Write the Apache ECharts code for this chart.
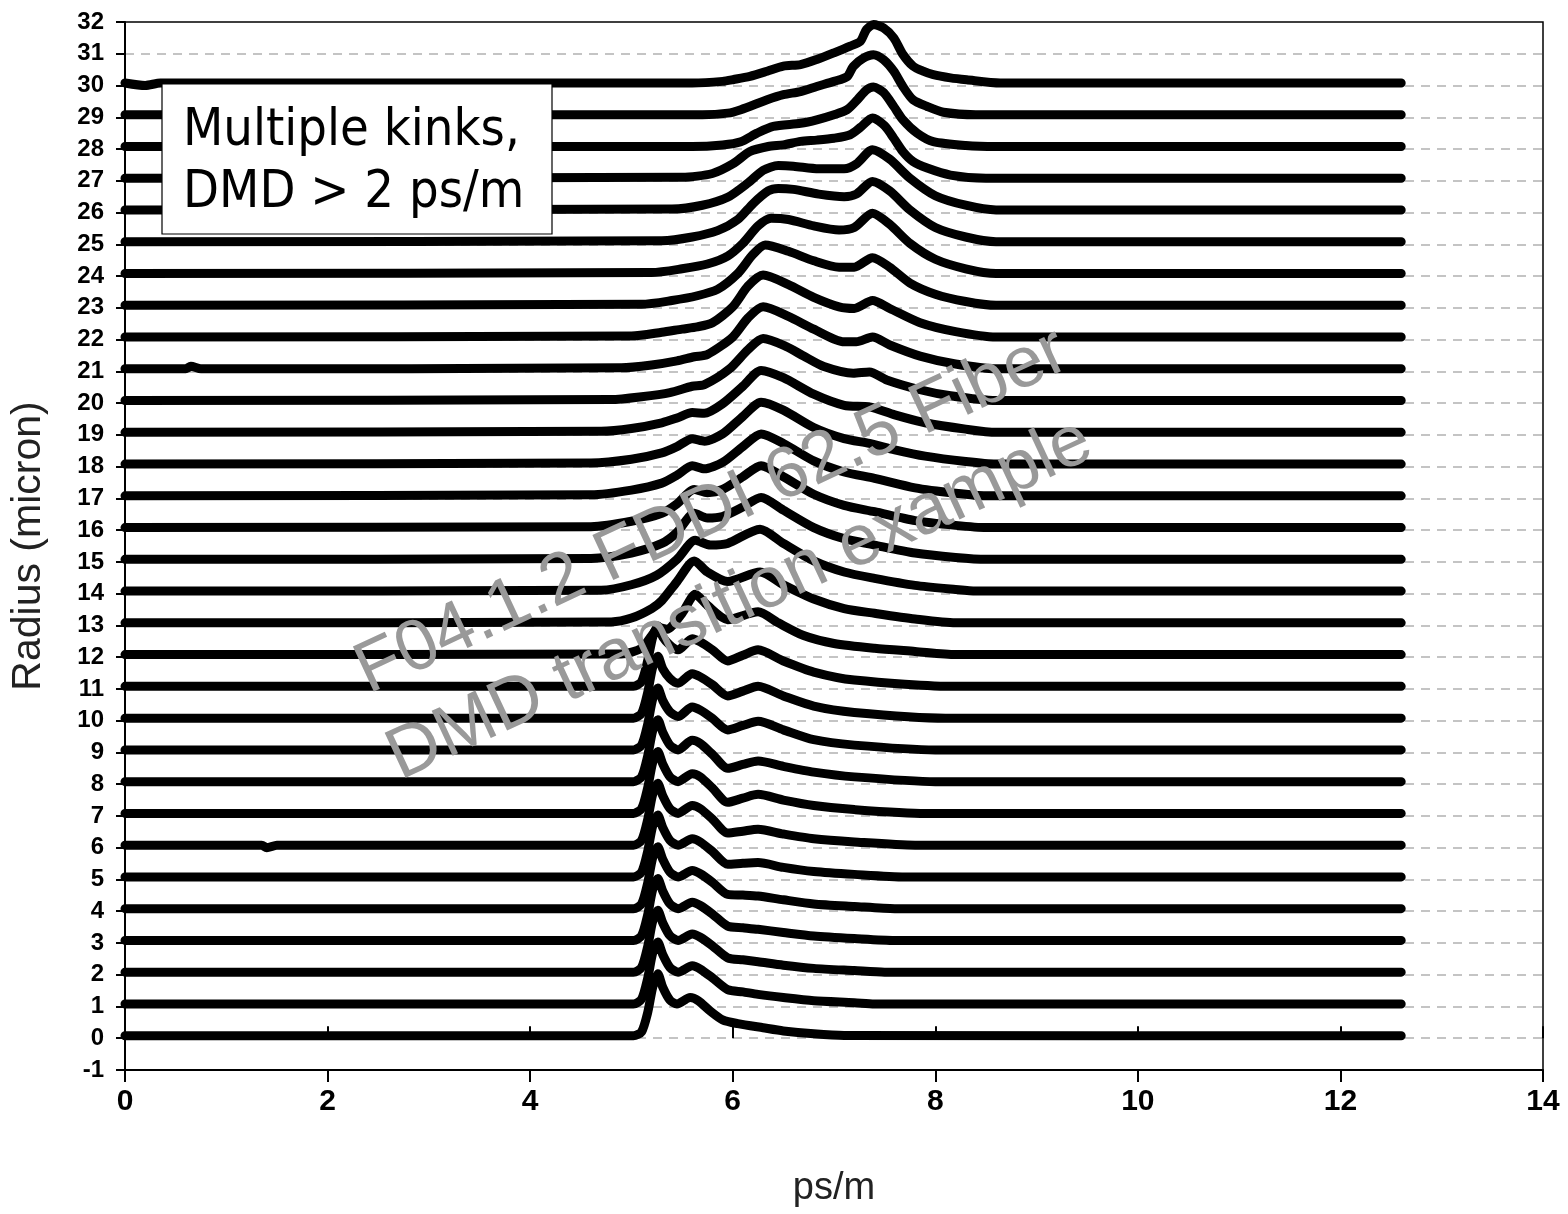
<!DOCTYPE html>
<html>
<head>
<meta charset="utf-8">
<script src="https://cdn.jsdelivr.net/npm/echarts@6/dist/echarts.min.js"></script>
<style>
html,body{margin:0;padding:0;background:#fff;}
#chart{width:1568px;height:1214px;}
</style>
</head>
<body>
<div id="chart"></div>
<script>
// ---- axis settings ----
const xTicks = [0, 2, 4, 6, 8, 10, 12, 14];
const yTickMin = -1, yTickMax = 32;
const xAxisTitle = 'ps/m';
const yAxisTitle = 'Radius (micron)';
const boxLines = ['Multiple kinks,', 'DMD > 2 ps/m'];
const watermarkLines = ['F04.1.2 FDDI 62.5 Fiber', 'DMD transition example'];

// ---- traces: one per launch radius (micron), points [ps/m, plotted value] ----
const t0 = [[0,0.08],[5.02,0.08],[5.1,0.2],[5.16,0.8],[5.21,1.6],[5.26,2.03],[5.31,1.6],[5.38,1.2],[5.45,1.08],[5.58,1.28],[5.66,1.18],[5.78,0.85],[5.9,0.58],[6.05,0.46],[6.3,0.33],[6.5,0.23],[6.8,0.14],[7.1,0.09],[12.6,0.08]];
const t1 = [[0,1.08],[5.02,1.08],[5.1,1.23],[5.16,1.88],[5.21,2.68],[5.26,3.03],[5.31,2.63],[5.38,2.23],[5.46,2.08],[5.6,2.28],[5.68,2.18],[5.8,1.9],[5.95,1.53],[6.1,1.46],[6.25,1.38],[6.5,1.28],[6.8,1.18],[7.2,1.12],[7.4,1.08],[12.6,1.08]];
const t2 = [[0,2.08],[5.02,2.08],[5.1,2.23],[5.16,2.88],[5.21,3.68],[5.26,4.03],[5.31,3.63],[5.38,3.23],[5.46,3.08],[5.6,3.28],[5.68,3.18],[5.8,2.91],[5.95,2.53],[6.1,2.47],[6.25,2.41],[6.5,2.3],[6.8,2.2],[7.2,2.13],[7.5,2.08],[12.6,2.08]];
const t3 = [[0,3.08],[5.02,3.08],[5.1,3.23],[5.16,3.88],[5.21,4.68],[5.26,5.03],[5.31,4.63],[5.38,4.23],[5.46,4.08],[5.6,4.28],[5.68,4.18],[5.8,3.91],[5.95,3.53],[6.1,3.48],[6.25,3.43],[6.5,3.33],[6.8,3.22],[7.2,3.14],[7.6,3.08],[12.6,3.08]];
const t4 = [[0,4.08],[5.02,4.08],[5.1,4.23],[5.16,4.88],[5.21,5.68],[5.26,6.03],[5.31,5.63],[5.38,5.23],[5.46,5.08],[5.6,5.28],[5.68,5.18],[5.8,4.91],[5.95,4.53],[6.1,4.51],[6.25,4.48],[6.5,4.36],[6.8,4.23],[7.2,4.15],[7.6,4.08],[12.6,4.08]];
const t5 = [[0,5.08],[5.02,5.08],[5.1,5.23],[5.16,5.88],[5.21,6.68],[5.26,7.03],[5.31,6.63],[5.38,6.23],[5.46,6.08],[5.6,6.28],[5.68,6.18],[5.8,5.88],[5.95,5.48],[6.1,5.51],[6.25,5.53],[6.5,5.38],[6.8,5.25],[7.2,5.16],[7.7,5.08],[12.6,5.08]];
const t6 = [[0,6.08],[1.35,6.08],[1.4,6.0],[1.5,6.08],[5.02,6.08],[5.1,6.23],[5.16,6.88],[5.21,7.68],[5.26,8.03],[5.31,7.63],[5.38,7.23],[5.46,7.08],[5.6,7.33],[5.68,7.23],[5.8,6.9],[5.95,6.46],[6.1,6.52],[6.25,6.58],[6.5,6.43],[6.8,6.28],[7.2,6.18],[7.8,6.08],[12.6,6.08]];
const t7 = [[0,7.08],[5.02,7.08],[5.1,7.23],[5.16,7.88],[5.21,8.68],[5.26,9.03],[5.31,8.63],[5.38,8.23],[5.46,8.08],[5.6,8.33],[5.68,8.23],[5.8,7.88],[5.95,7.43],[6.1,7.56],[6.25,7.68],[6.5,7.5],[6.8,7.33],[7.2,7.2],[7.9,7.08],[12.6,7.08]];
const t8 = [[0,8.08],[5.02,8.08],[5.1,8.23],[5.16,8.88],[5.21,9.68],[5.26,10.03],[5.31,9.63],[5.38,9.23],[5.46,9.08],[5.6,9.38],[5.68,9.28],[5.8,8.94],[5.95,8.5],[6.1,8.62],[6.25,8.73],[6.5,8.56],[6.8,8.38],[7.2,8.23],[8.0,8.08],[12.6,8.08]];
const t9 = [[0,9.08],[5.02,9.08],[5.1,9.23],[5.16,9.88],[5.21,10.68],[5.26,11.03],[5.31,10.63],[5.38,10.28],[5.46,10.13],[5.6,10.43],[5.68,10.33],[5.8,10.07],[5.95,9.71],[6.1,9.85],[6.25,9.98],[6.5,9.71],[6.8,9.4],[7.2,9.23],[8.0,9.08],[12.6,9.08]];
const t10 = [[0,10.08],[5.02,10.08],[5.1,10.23],[5.16,10.88],[5.21,11.68],[5.26,12.03],[5.31,11.63],[5.38,11.33],[5.46,11.18],[5.6,11.48],[5.68,11.38],[5.8,11.13],[5.95,10.78],[6.1,10.93],[6.25,11.08],[6.5,10.78],[6.8,10.46],[7.2,10.26],[8.1,10.08],[12.6,10.08]];
const t11 = [[0,11.08],[5.02,11.08],[5.1,11.23],[5.16,11.88],[5.21,12.63],[5.26,12.98],[5.31,12.63],[5.38,12.38],[5.46,12.23],[5.6,12.58],[5.68,12.48],[5.8,12.23],[5.95,11.88],[6.1,12.06],[6.25,12.23],[6.5,11.88],[6.8,11.53],[7.2,11.28],[8.2,11.08],[12.6,11.08]];
const t12 = [[0,12.08],[4.9,12.1],[5.1,12.28],[5.2,12.68],[5.27,12.93],[5.35,12.88],[5.5,13.38],[5.63,13.98],[5.75,13.63],[5.95,13.18],[6.25,13.43],[6.45,13.08],[6.7,12.68],[7.0,12.43],[7.4,12.28],[7.8,12.18],[8.2,12.08],[12.6,12.08]];
const t13 = [[0,13.08],[4.8,13.11],[5.0,13.23],[5.2,13.53],[5.3,13.78],[5.45,14.38],[5.62,15.03],[5.75,14.68],[5.95,14.38],[6.27,14.68],[6.5,14.28],[6.8,13.83],[7.1,13.53],[7.4,13.38],[7.8,13.2],[8.2,13.08],[12.6,13.08]];
const t14 = [[0,14.08],[4.7,14.11],[5.0,14.28],[5.25,14.58],[5.45,15.08],[5.63,15.68],[5.78,15.53],[5.95,15.58],[6.27,16.03],[6.5,15.58],[6.8,15.03],[7.1,14.68],[7.4,14.48],[7.8,14.26],[8.2,14.13],[8.4,14.08],[12.6,14.08]];
const t15 = [[0,15.08],[4.6,15.11],[5.0,15.28],[5.3,15.58],[5.45,15.93],[5.62,16.53],[5.75,16.38],[5.9,16.43],[6.1,16.73],[6.28,17.03],[6.5,16.63],[6.8,16.08],[7.1,15.73],[7.4,15.53],[7.8,15.28],[8.2,15.14],[8.5,15.08],[12.6,15.08]];
const t16 = [[0,16.08],[4.6,16.11],[5.0,16.28],[5.3,16.53],[5.45,16.83],[5.62,17.28],[5.75,17.18],[5.9,17.28],[6.1,17.68],[6.28,18.03],[6.5,17.68],[6.8,17.13],[7.1,16.78],[7.4,16.58],[7.8,16.3],[8.2,16.15],[8.5,16.08],[12.6,16.08]];
const t17 = [[0,17.08],[4.6,17.11],[5.0,17.26],[5.3,17.48],[5.45,17.73],[5.6,18.03],[5.72,17.93],[5.9,18.13],[6.1,18.63],[6.28,19.03],[6.5,18.73],[6.8,18.18],[7.1,17.83],[7.4,17.63],[7.8,17.33],[8.2,17.16],[8.5,17.08],[12.6,17.08]];
const t18 = [[0,18.08],[4.6,18.11],[5.0,18.23],[5.3,18.43],[5.45,18.63],[5.6,18.88],[5.72,18.8],[5.9,19.03],[6.1,19.58],[6.28,20.03],[6.5,19.78],[6.8,19.23],[7.1,18.88],[7.35,18.73],[7.6,18.53],[7.9,18.33],[8.3,18.16],[8.6,18.08],[12.6,18.08]];
const t19 = [[0,19.08],[4.7,19.11],[5.0,19.2],[5.3,19.38],[5.45,19.53],[5.6,19.7],[5.72,19.68],[5.9,19.98],[6.1,20.53],[6.28,21.03],[6.5,20.8],[6.8,20.28],[7.1,19.93],[7.35,19.88],[7.6,19.63],[7.9,19.38],[8.3,19.18],[8.6,19.08],[12.6,19.08]];
const t20 = [[0,20.08],[4.8,20.11],[5.1,20.2],[5.38,20.33],[5.6,20.53],[5.72,20.58],[5.97,21.08],[6.15,21.68],[6.3,22.03],[6.53,21.78],[6.7,21.48],[6.9,21.15],[7.19,20.94],[7.35,20.98],[7.52,20.73],[7.85,20.42],[8.15,20.23],[8.6,20.08],[12.6,20.08]];
const t21 = [[0,21.08],[0.6,21.08],[0.65,21.16],[0.75,21.08],[4.9,21.11],[5.2,21.2],[5.45,21.33],[5.62,21.46],[5.75,21.53],[6.0,22.08],[6.15,22.68],[6.3,23.03],[6.55,22.73],[6.8,22.33],[7.1,21.93],[7.22,21.93],[7.38,22.08],[7.55,21.83],[7.85,21.48],[8.2,21.23],[8.6,21.08],[12.6,21.08]];
const t22 = [[0,22.08],[5.0,22.11],[5.3,22.23],[5.5,22.33],[5.65,22.4],[5.8,22.53],[6.0,23.03],[6.15,23.68],[6.3,24.03],[6.55,23.73],[6.8,23.33],[7.05,23.03],[7.2,22.98],[7.38,23.23],[7.55,22.98],[7.85,22.53],[8.2,22.25],[8.6,22.08],[12.6,22.08]];
const t23 = [[0,23.08],[5.1,23.11],[5.4,23.23],[5.65,23.38],[5.85,23.58],[6.05,24.08],[6.2,24.68],[6.32,24.98],[6.55,24.78],[6.8,24.48],[7.05,24.28],[7.2,24.28],[7.38,24.58],[7.55,24.28],[7.75,23.78],[8.0,23.43],[8.3,23.2],[8.6,23.08],[12.6,23.08]];
const t24 = [[0,24.08],[5.2,24.11],[5.5,24.23],[5.75,24.38],[5.95,24.63],[6.1,25.03],[6.25,25.58],[6.38,25.82],[6.55,25.78],[6.8,25.58],[7.05,25.45],[7.2,25.53],[7.38,25.98],[7.55,25.63],[7.75,25.03],[8.0,24.53],[8.3,24.23],[8.6,24.08],[12.6,24.08]];
const t25 = [[0,25.08],[5.3,25.11],[5.6,25.23],[5.85,25.43],[6.05,25.78],[6.2,26.28],[6.35,26.68],[6.45,26.76],[6.6,26.73],[6.85,26.58],[7.1,26.5],[7.22,26.58],[7.38,26.98],[7.55,26.68],[7.75,26.08],[8.0,25.53],[8.3,25.23],[8.6,25.08],[12.6,25.08]];
const t26 = [[0,26.08],[5.4,26.11],[5.7,26.23],[5.95,26.48],[6.15,26.93],[6.3,27.33],[6.45,27.48],[6.6,27.46],[6.85,27.38],[7.1,27.38],[7.22,27.53],[7.38,27.98],[7.55,27.68],[7.75,27.08],[8.0,26.53],[8.3,26.23],[8.6,26.08],[12.6,26.08]];
const t27 = [[0,27.08],[5.5,27.11],[5.8,27.23],[6.0,27.53],[6.17,27.92],[6.35,28.08],[6.5,28.13],[6.67,28.24],[6.83,28.28],[7.0,28.34],[7.16,28.45],[7.26,28.68],[7.38,28.98],[7.5,28.73],[7.59,28.34],[7.68,27.92],[7.78,27.61],[7.92,27.4],[8.15,27.18],[8.5,27.08],[12.6,27.08]];
const t28 = [[0,28.08],[5.6,28.08],[5.9,28.13],[6.08,28.23],[6.24,28.5],[6.4,28.71],[6.67,28.81],[6.83,28.92],[7.0,29.08],[7.13,29.24],[7.23,29.55],[7.32,29.86],[7.39,29.95],[7.49,29.78],[7.59,29.34],[7.68,28.92],[7.82,28.5],[7.98,28.23],[8.3,28.11],[8.6,28.08],[12.6,28.08]];
const t29 = [[0,29.08],[5.7,29.08],[5.95,29.13],[6.08,29.24],[6.34,29.55],[6.5,29.71],[6.67,29.81],[6.83,29.97],[7.0,30.13],[7.13,30.28],[7.19,30.6],[7.29,30.86],[7.39,30.97],[7.49,30.81],[7.59,30.45],[7.68,29.97],[7.78,29.55],[7.92,29.34],[8.08,29.16],[8.4,29.08],[12.6,29.08]];
const t30 = [[0,30.08],[0.2,30.0],[0.35,30.08],[5.6,30.08],[5.9,30.13],[6.01,30.19],[6.17,30.29],[6.34,30.45],[6.5,30.61],[6.67,30.66],[6.83,30.82],[7.0,31.03],[7.16,31.24],[7.26,31.39],[7.32,31.76],[7.39,31.92],[7.49,31.81],[7.59,31.5],[7.68,30.98],[7.78,30.61],[7.88,30.45],[7.98,30.34],[8.15,30.24],[8.31,30.18],[8.64,30.08],[12.6,30.08]];

const traces = [t0,t1,t2,t3,t4,t5,t6,t7,t8,t9,t10,t11,t12,t13,t14,t15,t16,t17,t18,t19,t20,t21,t22,t23,t24,t25,t26,t27,t28,t29,t30];

const chart = echarts.init(document.getElementById('chart'), null, {renderer: 'canvas'});
const labelFont = '"Liberation Sans", Arial, sans-serif';

const axisCommon = {
  type: 'value', min: xTicks[0], max: xTicks[xTicks.length - 1], interval: 2
};

const series = traces.map((d, i) => ({
  type: 'line',
  name: 'r' + i,
  data: d,
  showSymbol: false,
  smooth: 0.25,
  silent: true,
  z: 3,
  lineStyle: {color: '#000', width: 9, cap: 'round', join: 'round'}
}));

const option = {
  animation: false,
  backgroundColor: '#fff',
  grid: {
    left: 124, right: 25, top: 22, bottom: 144,
    show: true, borderColor: '#000', borderWidth: 1.5, backgroundColor: 'transparent'
  },
  xAxis: [
    Object.assign({}, axisCommon, {
      position: 'bottom',
      name: xAxisTitle,
      nameLocation: 'middle',
      nameGap: 100,
      nameTextStyle: {fontFamily: labelFont, fontSize: 38, color: '#222'},
      axisLine: {show: true, onZero: false, lineStyle: {color: '#000', width: 2}},
      axisTick: {show: true, inside: false, length: 12, lineStyle: {color: '#000', width: 2}},
      axisLabel: {margin: 17, fontFamily: labelFont, fontWeight: 'bold', fontSize: 30, color: '#000'},
      splitLine: {show: false}
    }),
    Object.assign({}, axisCommon, {
      position: 'bottom',
      axisLine: {show: false},
      axisTick: {show: true, inside: true, length: 12, lineStyle: {color: '#000', width: 2}},
      axisLabel: {show: false},
      splitLine: {show: false}
    })
  ],
  yAxis: {
    type: 'value', min: yTickMin, max: yTickMax, interval: 1,
    name: yAxisTitle,
    nameLocation: 'middle',
    nameGap: 76,
    nameRotate: 90,
    nameTextStyle: {fontFamily: labelFont, fontSize: 41, color: '#222'},
    axisLine: {show: true, onZero: false, lineStyle: {color: '#000', width: 2}},
    axisTick: {show: true, inside: false, length: 9, lineStyle: {color: '#000', width: 2}},
    axisLabel: {margin: 21, fontFamily: labelFont, fontWeight: 'bold', fontSize: 24, color: '#000'},
    splitLine: {show: true, showMinLine: false, showMaxLine: false,
      lineStyle: {color: '#c4c4c4', width: 2, type: [9, 7]}}
  },
  graphic: [
    {type: 'rect', z: 100, shape: {x: 162, y: 84, width: 390, height: 150},
     style: {fill: '#fff', stroke: '#000', lineWidth: 1.2}},
    {type: 'text', z: 101, x: 183, y: 131,
     style: {text: boxLines[0], fontFamily: '"DejaVu Sans Condensed", "DejaVu Sans", sans-serif', fontSize: 52, fill: '#000', verticalAlign: 'middle', align: 'left'}},
    {type: 'text', z: 101, x: 183, y: 193,
     style: {text: boxLines[1], fontFamily: '"DejaVu Sans Condensed", "DejaVu Sans", sans-serif', fontSize: 52, fill: '#000', verticalAlign: 'middle', align: 'left'}},
    {type: 'text', z: 90, x: 712, y: 512, rotation: 25 * Math.PI / 180,
     style: {text: watermarkLines[0], fontFamily: labelFont, fontSize: 72, fill: '#999', align: 'center', verticalAlign: 'middle'}},
    {type: 'text', z: 90, x: 740, y: 600, rotation: 25 * Math.PI / 180,
     style: {text: watermarkLines[1], fontFamily: labelFont, fontSize: 72, fill: '#999', align: 'center', verticalAlign: 'middle'}}
  ],
  series: series
};
chart.setOption(option);
</script>
</body>
</html>
